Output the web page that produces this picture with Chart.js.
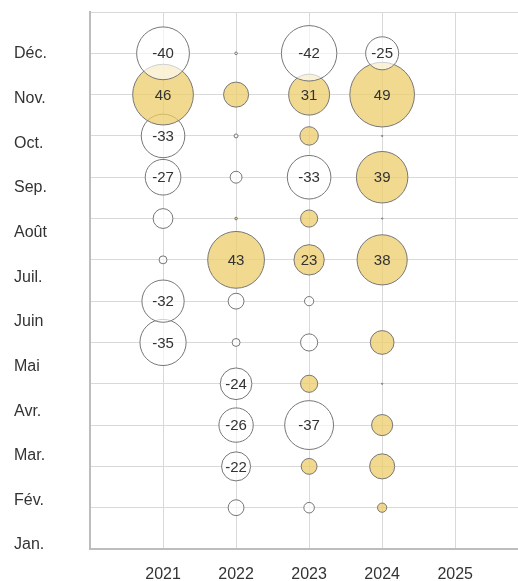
<!DOCTYPE html>
<html lang="fr">
<head>
    <meta charset="UTF-8">
    <title>Bulles par mois</title>
    <script src="https://cdn.jsdelivr.net/npm/chart.js"></script>
    <style>
        body { margin: 0; background: #fff; }
        #cadre { width: 518px; height: 581px; }
    </style>
</head>
<body>
    <div id="cadre"><canvas id="graphe"></canvas></div>

    <script>
        // données, de janvier à décembre
        const mois = ['Jan.', 'Fév.', 'Mar.', 'Avr.', 'Mai', 'Juin', 'Juil.', 'Août', 'Sep.', 'Oct.', 'Nov.', 'Déc.'];
        const annees = [2021, 2022, 2023, 2024];
        const val2021 = [null, null, null, null, -35, -32, -6, -15, -27, -33, 46, -40];
        const val2022 = [-12, -22, -26, -24, -6, -12, 43, 2, -9, -3, 19, -2];
        const val2023 = [-8, 12, -37, 13, -13, -7, 23, 13, -33, 14, 31, -42];
        const val2024 = [7, 19, 16, 1, 18, null, 38, 1, 39, 1, 49, -25];
        const series = [val2021, val2022, val2023, val2024];

        const police = '"Liberation Sans", Arial, sans-serif';
        const jaune = 'rgba(236, 204, 106, 0.75)';
        const blanc = 'rgba(255, 255, 255, 0.65)';

        const datasets = annees.map((an, i) => {
            const pts = [];
            series[i].forEach((v, m) => {
                if (v !== null) pts.push({ x: an, y: m + 1, r: Math.abs(v) * 0.66, v: v });
            });
            return {
                label: String(an),
                data: pts,
                backgroundColor: pts.map(p => p.v > 0 ? jaune : blanc),
                borderColor: '#767676',
                borderWidth: 1,
                hoverRadius: 0,
                clip: false
            };
        });

        // étiquettes au centre des grosses bulles
        const etiquettes = {
            id: 'etiquettes',
            afterDatasetsDraw(chart) {
                const ctx = chart.ctx;
                ctx.save();
                ctx.font = '15px ' + police;
                ctx.fillStyle = '#333';
                ctx.textAlign = 'center';
                ctx.textBaseline = 'middle';
                chart.data.datasets.forEach((ds, i) => {
                    chart.getDatasetMeta(i).data.forEach((el, j) => {
                        const v = ds.data[j].v;
                        if (Math.abs(v) >= 20) ctx.fillText(String(v), el.x, el.y + 1);
                    });
                });
                ctx.restore();
            }
        };

        // pas de marge automatique autour des axes
        function sansMarge(axe) {
            axe.paddingTop = 0;
            axe.paddingBottom = 0;
            axe.paddingLeft = 0;
            axe.paddingRight = 0;
        }

        new Chart(document.getElementById('graphe'), {
            type: 'bubble',
            data: { datasets: datasets },
            plugins: [etiquettes],
            options: {
                responsive: true,
                maintainAspectRatio: false,
                animation: false,
                events: [],
                layout: { autoPadding: false, padding: { top: 12, left: 14, right: 0, bottom: 0 } },
                plugins: { legend: { display: false }, tooltip: { enabled: false } },
                scales: {
                    x: {
                        type: 'linear',
                        min: 2020,
                        max: 2025.86,
                        grid: { color: '#d9d9d9', drawTicks: false },
                        border: { color: '#bdbdbd', width: 2 },
                        afterFit: axe => { sansMarge(axe); axe.height = 32; },
                        ticks: {
                            stepSize: 1,
                            includeBounds: false,
                            padding: 16,
                            color: '#333',
                            font: { family: police, size: 16 },
                            callback: v => (v > 2020 && v <= 2025) ? String(v) : ''
                        }
                    },
                    y: {
                        type: 'linear',
                        position: 'left',
                        min: 0,
                        max: 13,
                        grid: { color: '#d9d9d9', drawTicks: false },
                        border: { color: '#bdbdbd', width: 2 },
                        afterFit: axe => { sansMarge(axe); axe.width = 0; },
                        ticks: { display: false, stepSize: 1 }
                    },
                    // axe des libellés, décalé par rapport à la grille comme sur l'original
                    mois: {
                        type: 'linear',
                        position: 'left',
                        min: 0.911,
                        max: 12.941,
                        grid: { display: false },
                        border: { display: false },
                        afterBuildTicks: axe => { axe.ticks = mois.map((m, i) => ({ value: i + 1 })); },
                        afterFit: axe => { sansMarge(axe); axe.width = 76; },
                        ticks: {
                            crossAlign: 'far',
                            color: '#333',
                            font: { family: police, size: 16 },
                            callback: v => mois[v - 1]
                        }
                    }
                }
            }
        });
    </script>
</body>
</html>
